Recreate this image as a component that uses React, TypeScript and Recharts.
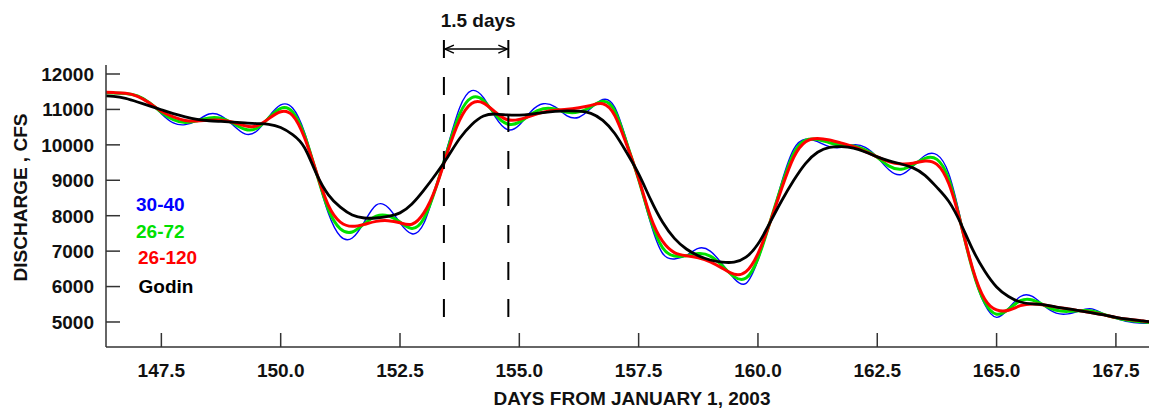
import React from 'react';
import { LineChart, Line, XAxis, YAxis, ReferenceLine, Legend, Label } from 'recharts';

// days from Jan 1 2003, sampled every quarter day
const days = [
  146.25, 146.5, 146.75,
  147, 147.25, 147.5, 147.75,
  148, 148.25, 148.5, 148.75,
  149, 149.25, 149.5, 149.75,
  150, 150.25, 150.5, 150.75,
  151, 151.25, 151.5, 151.75,
  152, 152.25, 152.5, 152.75,
  153, 153.25, 153.5, 153.75,
  154, 154.25, 154.5, 154.75,
  155, 155.25, 155.5, 155.75,
  156, 156.25, 156.5, 156.75,
  157, 157.25, 157.5, 157.75,
  158, 158.25, 158.5, 158.75,
  159, 159.25, 159.5, 159.75,
  160, 160.25, 160.5, 160.75,
  161, 161.25, 161.5, 161.75,
  162, 162.25, 162.5, 162.75,
  163, 163.25, 163.5, 163.75,
  164, 164.25, 164.5, 164.75,
  165, 165.25, 165.5, 165.75,
  166, 166.25, 166.5, 166.75,
  167, 167.25, 167.5, 167.75,
  168, 168.25, 168.5,
];

// 30-40 filter (blue)
const filter3040 = [
  11450, 11455, 11440,
  11390, 11200, 10880, 10620,
  10570, 10690, 10870, 10820,
  10560, 10310, 10390, 10790,
  11125, 11040, 10350, 9200,
  8070, 7420, 7370, 7820,
  8300, 8230, 7800, 7490,
  7785, 8800, 9960, 11050,
  11530, 11330, 10780, 10430,
  10560, 10950, 11160, 11070,
  10820, 10780, 11030, 11280,
  11060, 10110, 9000, 7800,
  6940, 6780, 6880, 7080,
  7000, 6640, 6230, 6090,
  6750, 7800, 8960, 9880,
  10160, 10090, 9950, 9930,
  10000, 9930, 9650, 9290,
  9160, 9400, 9700, 9720,
  9180, 7880, 6440, 5500,
  5130, 5380, 5720, 5720,
  5450, 5250, 5230, 5325,
  5370, 5225, 5105, 5010,
  4970, 4965, 4970,
];

// 26-72 filter (green)
const filter2672 = [
  11470, 11465, 11450,
  11380, 11190, 10920, 10710,
  10630, 10680, 10760, 10750,
  10610, 10440, 10470, 10760,
  11030, 10930, 10270, 9200,
  8170, 7630, 7540, 7770,
  7990, 8000, 7820, 7640,
  7920, 8780, 9880, 10870,
  11330, 11250, 10850, 10590,
  10640, 10870, 11020, 11010,
  10920, 10930, 11070, 11230,
  10960, 10050, 9020, 7890,
  7100, 6860, 6870, 6930,
  6860, 6590, 6280, 6240,
  6790, 7810, 8870, 9760,
  10130, 10150, 10060, 9990,
  9970, 9860, 9650, 9400,
  9310, 9440, 9620, 9590,
  9030, 7790, 6460, 5560,
  5220, 5360, 5600, 5620,
  5470, 5330, 5300, 5320,
  5310, 5210, 5115, 5045,
  5005, 4985, 4970,
];

// 26-120 filter (red)
const filter26120 = [
  11490, 11475, 11455,
  11370, 11180, 10950, 10790,
  10690, 10675, 10695, 10695,
  10640, 10540, 10535, 10740,
  10935, 10830, 10200, 9220,
  8290, 7820, 7700, 7755,
  7840, 7860, 7800, 7760,
  8080, 8790, 9810, 10700,
  11170, 11180, 10920, 10710,
  10720, 10820, 10920, 10975,
  11005, 11050, 11115, 11160,
  10830, 10000, 9050, 7970,
  7280, 6960, 6870, 6810,
  6700, 6520, 6350, 6420,
  6930, 7800, 8780, 9650,
  10090, 10180, 10135, 10050,
  9950, 9810, 9660, 9520,
  9460, 9480, 9545, 9450,
  8900, 7780, 6500, 5650,
  5340, 5330, 5460, 5510,
  5480, 5420, 5370, 5315,
  5260, 5200, 5130, 5080,
  5040, 5000, 4970,
];

// Godin filter (black)
const godin = [
  11390, 11370, 11310,
  11210, 11100, 10990, 10880,
  10790, 10720, 10680, 10660,
  10640, 10620, 10600, 10580,
  10490, 10290, 9920, 9180,
  8590, 8240, 8020, 7935,
  7935, 7980, 8080, 8330,
  8720, 9170, 9660, 10180,
  10570, 10815, 10870, 10845,
  10840, 10870, 10910, 10945,
  10960, 10950, 10890, 10690,
  10320, 9780, 9180, 8460,
  7820, 7360, 7060, 6870,
  6750, 6690, 6690, 6830,
  7200, 7800, 8430, 9000,
  9480, 9790, 9930, 9950,
  9910, 9800, 9660, 9550,
  9460, 9350, 9140, 8800,
  8400, 7780, 7040, 6440,
  5990, 5720, 5565, 5510,
  5485, 5420, 5370, 5315,
  5260, 5200, 5130, 5080,
  5040, 5000, 4970,
];

const xTicks = [147.5, 150, 152.5, 155, 157.5, 160, 162.5, 165, 167.5];
const yTicks = [5000, 6000, 7000, 8000, 9000, 10000, 11000, 12000];

// the 1.5 day window marked with dashed lines
const windowDays = [153.42, 154.77];

const series = [
  { key: 'f3040', name: '30-40', color: '#0000ff', width: 1.4 },
  { key: 'f2672', name: '26-72', color: '#00e000', width: 3 },
  { key: 'f26120', name: '26-120', color: '#ff0000', width: 3 },
  { key: 'godin', name: 'Godin', color: '#000000', width: 2.8 },
];

const data = days.map((d, i) => ({
  day: d,
  f3040: filter3040[i],
  f2672: filter2672[i],
  f26120: filter26120[i],
  godin: godin[i],
}));

const FONT = '"Liberation Sans", Arial, Helvetica, sans-serif';
const AXIS = '#333';
const TEXT = '#111';
const X_DOMAIN: [number, number] = [146.34, 168.34];
const Y_DOMAIN: [number, number] = [4294, 12254];

function BottomTick({ x, y, payload }: any) {
  return (
    <g>
      <line x1={x} y1={y} x2={x} y2={y - 14} stroke={AXIS} strokeWidth={1.5} />
      <text x={x} y={y + 30} textAnchor="middle" fontFamily={FONT} fontWeight="bold" fontSize={19} fill={TEXT}>
        {Number(payload.value).toFixed(1)}
      </text>
    </g>
  );
}

function TopTick({ x, y }: any) {
  return <line x1={x} y1={y} x2={x} y2={y + 14} stroke={AXIS} strokeWidth={1.5} />;
}

function LeftTick({ x, y, payload }: any) {
  return (
    <g>
      <line x1={x} y1={y} x2={x + 14} y2={y} stroke={AXIS} strokeWidth={1.5} />
      <text x={x - 12} y={y + 6.8} textAnchor="end" fontFamily={FONT} fontWeight="bold" fontSize={19} fill={TEXT}>
        {payload.value}
      </text>
    </g>
  );
}

function RightTick({ x, y }: any) {
  return <line x1={x} y1={y} x2={x - 14} y2={y} stroke={AXIS} strokeWidth={1.5} />;
}

function SpanArrow(props: any) {
  const { x1, y1, x2 } = props;
  const y = y1;
  return (
    <g>
      <line x1={x1 + 1} y1={y} x2={x2 - 1} y2={y} stroke="#000" strokeWidth={1.4} />
      <polyline points={`${x1 + 10},${y - 4} ${x1 + 1},${y} ${x1 + 10},${y + 4}`} fill="none" stroke="#000" strokeWidth={1.4} />
      <polyline points={`${x2 - 10},${y - 4} ${x2 - 1},${y} ${x2 - 10},${y + 4}`} fill="none" stroke="#000" strokeWidth={1.4} />
      <text x={(x1 + x2) / 2 + 2} y={y - 22} textAnchor="middle" fontFamily={FONT} fontWeight="bold" fontSize={19} fill={TEXT}>
        1.5 days
      </text>
    </g>
  );
}

const legendPos = [
  { left: 136, mid: 205 },
  { left: 136, mid: 231.5 },
  { left: 138, mid: 257.5 },
  { left: 138.5, mid: 286.5 },
];

function SeriesLegend() {
  return (
    <div style={{ position: 'relative', width: 0, height: 0 }}>
      {series.map((s, i) => (
        <div
          key={s.key}
          style={{
            position: 'absolute',
            left: legendPos[i].left,
            top: legendPos[i].mid - 11,
            lineHeight: '22px',
            whiteSpace: 'nowrap',
            fontFamily: FONT,
            fontWeight: 'bold',
            fontSize: 19,
            color: s.color,
          }}
        >
          {s.name}
        </div>
      ))}
    </div>
  );
}

export default function App() {
  return (
    <div style={{ position: 'absolute', left: 0, top: 0, width: 1149, height: 410, overflow: 'hidden', background: '#fff' }}>
      <LineChart width={1157} height={410} data={data} margin={{ top: 65, right: 1, bottom: 0, left: 0 }}>
        <XAxis
          xAxisId="bottom"
          dataKey="day"
          type="number"
          domain={X_DOMAIN}
          allowDataOverflow
          ticks={xTicks}
          height={63}
          tickLine={false}
          tickSize={0}
          tickMargin={0}
          tick={BottomTick}
          axisLine={{ stroke: AXIS, strokeWidth: 1.5 }}
        >
          <Label
            content={({ viewBox }: any) => (
              <text x={viewBox.x + viewBox.width / 2 + 1} y={viewBox.y + 57.5} textAnchor="middle" fontFamily={FONT} fontWeight="bold" fontSize={19} fill={TEXT}>
                DAYS FROM JANUARY 1, 2003
              </text>
            )}
          />
        </XAxis>
        <XAxis
          xAxisId="top"
          orientation="top"
          type="number"
          domain={X_DOMAIN}
          allowDataOverflow
          ticks={xTicks}
          height={0}
          tickLine={false}
          tickSize={0}
          tickMargin={0}
          tick={TopTick}
          axisLine={{ stroke: AXIS, strokeWidth: 1.5 }}
        />
        <YAxis
          yAxisId="left"
          type="number"
          domain={Y_DOMAIN}
          allowDataOverflow
          ticks={yTicks}
          width={106}
          tickLine={false}
          tickSize={0}
          tickMargin={0}
          tick={LeftTick}
          axisLine={{ stroke: AXIS, strokeWidth: 1.5 }}
        >
          <Label
            content={() => (
              <text transform="translate(27,197.5) rotate(-90)" textAnchor="middle" fontFamily={FONT} fontWeight="bold" fontSize={19} fill={TEXT}>
                DISCHARGE , CFS
              </text>
            )}
          />
        </YAxis>
        <YAxis
          yAxisId="right"
          orientation="right"
          type="number"
          domain={Y_DOMAIN}
          allowDataOverflow
          ticks={yTicks}
          width={0}
          tickLine={false}
          tickSize={0}
          tickMargin={0}
          tick={RightTick}
          axisLine={{ stroke: AXIS, strokeWidth: 1.5 }}
        />
        <Legend layout="vertical" align="center" verticalAlign="middle" content={() => <SeriesLegend />} wrapperStyle={{ left: 0, top: 0, width: 0, height: 0 }} />
        {series.map((s) => (
          <Line
            key={s.key}
            xAxisId="bottom"
            yAxisId="left"
            dataKey={s.key}
            name={s.name}
            type="natural"
            stroke={s.color}
            strokeWidth={s.width}
            dot={false}
            activeDot={false}
            isAnimationActive={false}
          />
        ))}
        {windowDays.map((d) => (
          <ReferenceLine
            key={d}
            xAxisId="bottom"
            yAxisId="left"
            segment={[{ x: d, y: 12960 }, { x: d, y: 4690 }]}
            stroke="#000"
            strokeWidth={2}
            strokeDasharray="18 19"
            ifOverflow="visible"
          />
        ))}
        <ReferenceLine
          xAxisId="bottom"
          yAxisId="left"
          segment={[{ x: windowDays[0], y: 12705 }, { x: windowDays[1], y: 12705 }]}
          ifOverflow="visible"
          shape={SpanArrow}
        />
      </LineChart>
    </div>
  );
}
